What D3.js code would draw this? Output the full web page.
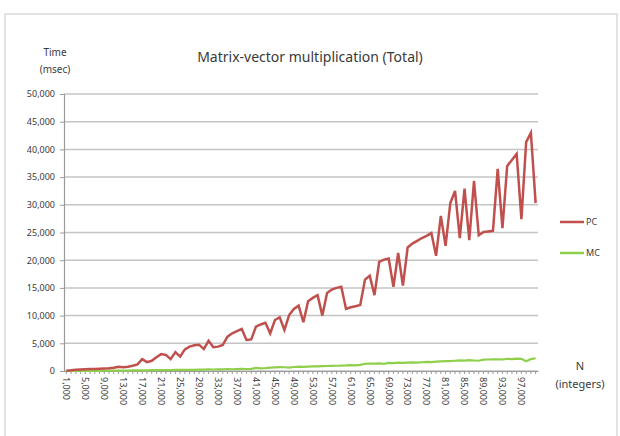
<!DOCTYPE html>
<html>
<head>
<meta charset="utf-8">
<script src="https://cdn.jsdelivr.net/npm/d3@7"></script>
<style>
body { margin: 0; background: #fff; }
text { font-family: "Noto Sans", sans-serif; fill: #3a3a3a; }
</style>
</head>
<body>
<svg id="chart" width="620" height="436"></svg>
<script>
var categories = [];
for (var n = 1; n <= 100; n++) categories.push(n * 1000);

var pcValues = [
    30, 120, 240, 280, 310, 350, 380, 420, 450, 490,
    600, 780, 660, 780, 950, 1200, 2150, 1600, 1850, 2500,
    3050, 2900, 2150, 3400, 2600, 3900, 4400, 4650, 4750, 3950,
    5450, 4300, 4400, 4700, 6200, 6800, 7200, 7600, 5600, 5700,
    8000, 8400, 8700, 6800, 9200, 9700, 7400, 10100, 11200, 11800,
    8800, 12600, 13200, 13700, 10000, 14100, 14700, 15000, 15200, 11200,
    11500, 11700, 11900, 16500, 17200, 13700, 19700, 20100, 20300, 15200,
    21300, 15400, 22300, 23000, 23500, 24000, 24400, 24900, 20800, 28000,
    22600, 30300, 32500, 24000, 32900, 23600, 34300, 24500, 25100, 25200,
    25300, 36500, 25800, 37000, 38100, 39200, 27400, 41300, 43000, 30300
];

var mcValues = [
    5, 10, 15, 20, 25, 30, 35, 40, 50, 55,
    60, 70, 80, 90, 100, 110, 130, 120, 140, 150,
    170, 160, 180, 200, 190, 210, 230, 220, 250, 260,
    280, 270, 300, 310, 330, 320, 350, 380, 360, 400,
    560, 480, 520, 600, 650, 700, 680, 620, 720, 780,
    760, 800, 830, 850, 880, 900, 920, 950, 980, 1000,
    1050, 1020, 1100, 1300, 1350, 1320, 1380, 1300, 1450, 1420,
    1500, 1480, 1520, 1550, 1500, 1580, 1650, 1620, 1700, 1750,
    1800, 1780, 1850, 1900, 1870, 1950, 1900, 1850, 2050, 2080,
    2100, 2120, 2080, 2200, 2150, 2250, 2200, 1750, 2150, 2300
];

var yTicks = [0, 5000, 10000, 15000, 20000, 25000, 30000, 35000, 40000, 45000, 50000];
var seriesNames = ["PC", "MC"];
var seriesColors = ["#c0504d", "#8fcf4c"];

var svg = d3.select("#chart");
var fmt = d3.format(",");

svg.append("rect")
    .attr("x", 5).attr("y", 14)
    .attr("width", 612).attr("height", 440)
    .attr("fill", "none")
    .attr("stroke", "#d9d9d9")
    .attr("stroke-width", 1.5);

var x = d3.scaleBand().domain(categories).range([64, 538]);
var y = d3.scaleLinear().domain([0, 50000]).range([371, 94]);

// gridlines
svg.selectAll(".grid")
    .data(yTicks)
    .enter()
    .append("line")
    .attr("x1", 64).attr("x2", 538)
    .attr("y1", function(d) { return y(d); })
    .attr("y2", function(d) { return y(d); })
    .attr("stroke", "#c4c4c4")
    .attr("stroke-width", 1.5);

var yAxis = svg.append("g")
    .attr("transform", "translate(64,0)")
    .call(d3.axisLeft(y).tickValues(yTicks).tickFormat(fmt).tickSize(4).tickPadding(5));
yAxis.select(".domain").attr("stroke", "#9a9a9a").attr("stroke-width", 1.2);
yAxis.selectAll(".tick line").attr("stroke", "#9a9a9a");
yAxis.selectAll("text").style("font-size", "9px").attr("fill", "#3a3a3a");

var xAxis = svg.append("g")
    .attr("transform", "translate(0,371)")
    .call(d3.axisBottom(x).tickSize(3).tickSizeOuter(0).tickFormat(""));
xAxis.select(".domain").attr("stroke", "#9a9a9a").attr("stroke-width", 1.2);
xAxis.selectAll(".tick line").attr("stroke", "#9a9a9a");

svg.selectAll(".xlab")
    .data(categories.filter(function(d, i) { return i % 4 == 0; }))
    .enter()
    .append("text")
    .attr("transform", function(d) {
        return "translate(" + (x(d) + x.bandwidth() / 2) + ",377) rotate(90)";
    })
    .attr("dy", "0.35em")
    .style("font-size", "9px")
    .text(function(d) { return fmt(d); });

var line = d3.line()
    .x(function(d, i) { return x(categories[i]) + x.bandwidth() / 2; })
    .y(function(d) { return y(d); });

svg.append("path")
    .datum(mcValues)
    .attr("d", line)
    .attr("fill", "none")
    .attr("stroke", seriesColors[1])
    .attr("stroke-width", 2.2);

svg.append("path")
    .datum(pcValues)
    .attr("d", line)
    .attr("fill", "none")
    .attr("stroke", seriesColors[0])
    .attr("stroke-width", 2.5)
    .attr("stroke-linejoin", "miter");

// legend
var legend = svg.selectAll(".legend")
    .data(seriesNames)
    .enter()
    .append("g")
    .attr("transform", function(d, i) { return "translate(560," + (222 + i * 31) + ")"; });
legend.append("line")
    .attr("x1", 0).attr("x2", 24)
    .attr("stroke", function(d, i) { return seriesColors[i]; })
    .attr("stroke-width", 2.5);
legend.append("text")
    .attr("x", 26).attr("dy", "0.35em")
    .style("font-size", "9px")
    .text(function(d) { return d; });

svg.append("text")
    .attr("x", 310).attr("y", 62)
    .attr("text-anchor", "middle")
    .style("font-size", "14px")
    .text("Matrix-vector multiplication (Total)");

svg.append("text").attr("x", 55).attr("y", 56).attr("text-anchor", "middle")
    .style("font-size", "10px").text("Time");
svg.append("text").attr("x", 55).attr("y", 73).attr("text-anchor", "middle")
    .style("font-size", "10px").text("(msec)");
svg.append("text").attr("x", 580).attr("y", 370).attr("text-anchor", "middle")
    .style("font-size", "11px").text("N");
svg.append("text").attr("x", 580).attr("y", 388).attr("text-anchor", "middle")
    .style("font-size", "11px").text("(integers)");
</script>
</body>
</html>
